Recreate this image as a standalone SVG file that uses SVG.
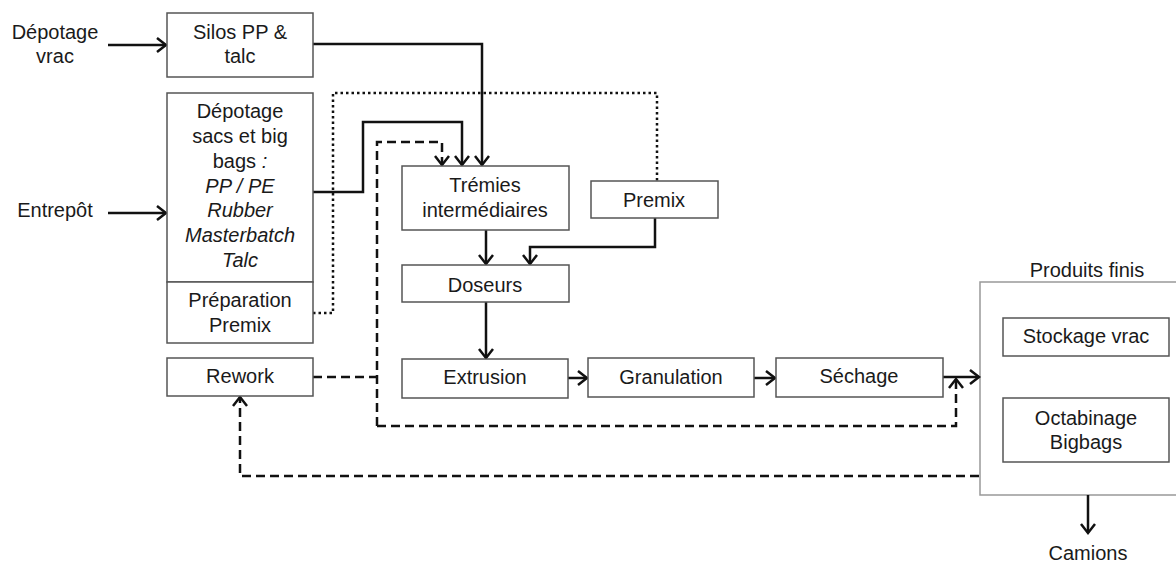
<svg xmlns="http://www.w3.org/2000/svg" width="1176" height="564" viewBox="0 0 1176 564">
<defs>
<style>
text{font-family:"Liberation Sans",Arial,sans-serif;font-size:20px;fill:#1a1a1a;text-anchor:middle}
.it{font-style:italic}
.box{fill:#fff;stroke:#555;stroke-width:1.5}
.group{fill:#fff;stroke:#999;stroke-width:1.5}
.solid{fill:none;stroke:#111;stroke-width:2.5}
.dash{fill:none;stroke:#111;stroke-width:2.5;stroke-dasharray:9 5}
.dot{fill:none;stroke:#111;stroke-width:2.5;stroke-dasharray:2.5 3}
</style>
<marker id="arr" viewBox="0 0 11 16" refX="10" refY="8" markerWidth="11" markerHeight="16" markerUnits="userSpaceOnUse" orient="auto" overflow="visible">
<path d="M1,1 L10,8 L1,15" fill="none" stroke="#111" stroke-width="2.5" stroke-dasharray="none"/>
</marker>
</defs>
<rect width="1176" height="564" fill="#fff"/>

<g id="produits-finis">
<rect class="group" x="980" y="282" width="200" height="213"/>
<text x="1087" y="277">Produits finis</text>
</g>

<g id="connectors">
<path class="solid" d="M108,45 H166" marker-end="url(#arr)"/>
<path class="solid" d="M108,213 H166" marker-end="url(#arr)"/>
<path class="solid" d="M313,44 H482 V165" marker-end="url(#arr)"/>
<path class="solid" d="M313,192 H363 V122 H462 V165" marker-end="url(#arr)"/>
<path class="dot" d="M313,313 H333 V93 H657 V181"/>
<path class="dash" d="M377,426 V142 H442 V165" marker-end="url(#arr)"/>
<path class="dash" d="M377,426 H956 V379" marker-end="url(#arr)"/>
<path class="dash" d="M313,377 H377"/>
<path class="solid" d="M655,218 V247 H530 V264" marker-end="url(#arr)"/>
<path class="solid" d="M486,230 V264" marker-end="url(#arr)"/>
<path class="solid" d="M486,302 V358" marker-end="url(#arr)"/>
<path class="solid" d="M568,378 H587" marker-end="url(#arr)"/>
<path class="solid" d="M754,378 H775" marker-end="url(#arr)"/>
<path class="solid" d="M943,377 H979" marker-end="url(#arr)"/>
<path class="dash" d="M979,476 H240 V397" marker-end="url(#arr)"/>
<path class="solid" d="M1088,495 V533" marker-end="url(#arr)"/>
</g>

<g id="depotage-vrac">
<text x="55" y="39">Dépotage</text>
<text x="55" y="63">vrac</text>
</g>
<g id="entrepot">
<text x="55" y="217">Entrepôt</text>
</g>
<g id="silos">
<rect class="box" x="167" y="13" width="146" height="64"/>
<text x="240" y="39">Silos PP &amp;</text>
<text x="240" y="63">talc</text>
</g>
<g id="depotage-sacs">
<rect class="box" x="167" y="93" width="146" height="189"/>
<text x="240" y="118">Dépotage</text>
<text x="240" y="143">sacs et big</text>
<text x="240" y="168">bags <tspan class="it">:</tspan></text>
<text x="240" y="193" class="it">PP / PE</text>
<text x="240" y="217" class="it">Rubber</text>
<text x="240" y="242" class="it">Masterbatch</text>
<text x="240" y="267" class="it">Talc</text>
</g>
<g id="preparation-premix">
<rect class="box" x="167" y="282" width="146" height="61"/>
<text x="240" y="307">Préparation</text>
<text x="240" y="332">Premix</text>
</g>
<g id="rework">
<rect class="box" x="167" y="358" width="146" height="38"/>
<text x="240" y="383">Rework</text>
</g>
<g id="tremies">
<rect class="box" x="402" y="166" width="167" height="64"/>
<text x="485" y="192">Trémies</text>
<text x="485" y="217">intermédiaires</text>
</g>
<g id="premix">
<rect class="box" x="591" y="181" width="127" height="37"/>
<text x="654" y="207">Premix</text>
</g>
<g id="doseurs">
<rect class="box" x="402" y="265" width="167" height="37"/>
<text x="485" y="292">Doseurs</text>
</g>
<g id="extrusion">
<rect class="box" x="402" y="359" width="166" height="39"/>
<text x="485" y="384">Extrusion</text>
</g>
<g id="granulation">
<rect class="box" x="588" y="358" width="166" height="39"/>
<text x="671" y="384">Granulation</text>
</g>
<g id="sechage">
<rect class="box" x="776" y="358" width="167" height="39"/>
<text x="859" y="383">Séchage</text>
</g>
<g id="stockage-vrac">
<rect class="box" x="1003" y="318" width="166" height="38"/>
<text x="1086" y="343">Stockage vrac</text>
</g>
<g id="octabinage">
<rect class="box" x="1003" y="398" width="166" height="64"/>
<text x="1086" y="425">Octabinage</text>
<text x="1086" y="449">Bigbags</text>
</g>
<g id="camions">
<text x="1088" y="560">Camions</text>
</g>
</svg>
